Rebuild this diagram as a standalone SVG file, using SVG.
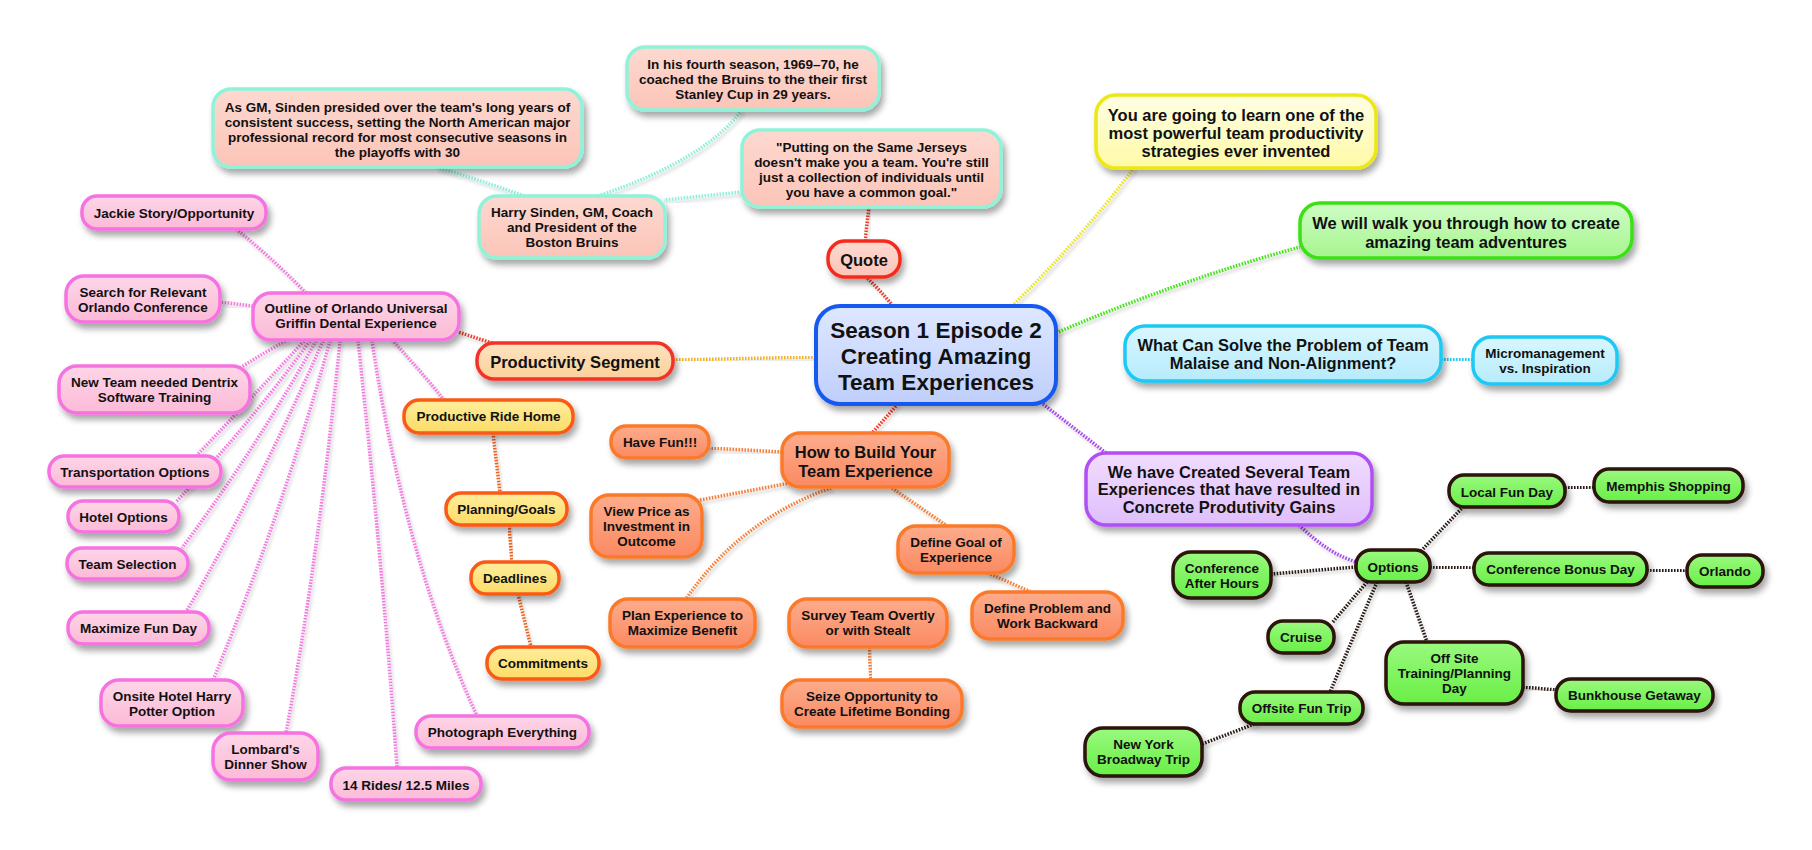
<svg xmlns="http://www.w3.org/2000/svg" width="1812" height="850" viewBox="0 0 1812 850">
<defs>
<filter id="sh" x="-20%" y="-30%" width="150%" height="180%"><feDropShadow dx="3" dy="5" stdDeviation="3" flood-color="#000" flood-opacity="0.35"/></filter>
<filter id="lsh" x="-20%" y="-20%" width="150%" height="150%"><feDropShadow dx="2" dy="3" stdDeviation="1.5" flood-color="#000" flood-opacity="0.2"/></filter>
<linearGradient id="gBlue" x1="0" y1="0" x2="0" y2="1"><stop offset="0" stop-color="#dde7ff"/><stop offset="1" stop-color="#bfcffb"/></linearGradient>
<linearGradient id="gSal" x1="0" y1="0" x2="0" y2="1"><stop offset="0" stop-color="#fdd9d0"/><stop offset="1" stop-color="#fcc4b8"/></linearGradient>
<linearGradient id="gPeach" x1="0" y1="0" x2="0" y2="1"><stop offset="0" stop-color="#fee3bf"/><stop offset="1" stop-color="#fcd09a"/></linearGradient>
<linearGradient id="gYel" x1="0" y1="0" x2="0" y2="1"><stop offset="0" stop-color="#feee9c"/><stop offset="1" stop-color="#fddb66"/></linearGradient>
<linearGradient id="gPink" x1="0" y1="0" x2="0" y2="1"><stop offset="0" stop-color="#fed6e8"/><stop offset="1" stop-color="#fcbad6"/></linearGradient>
<linearGradient id="gOr" x1="0" y1="0" x2="0" y2="1"><stop offset="0" stop-color="#fdac8c"/><stop offset="1" stop-color="#fb8a62"/></linearGradient>
<linearGradient id="gLY" x1="0" y1="0" x2="0" y2="1"><stop offset="0" stop-color="#fffee4"/><stop offset="1" stop-color="#fffaa6"/></linearGradient>
<linearGradient id="gLG" x1="0" y1="0" x2="0" y2="1"><stop offset="0" stop-color="#cffcc6"/><stop offset="1" stop-color="#a6f58e"/></linearGradient>
<linearGradient id="gCy" x1="0" y1="0" x2="0" y2="1"><stop offset="0" stop-color="#d9f7fe"/><stop offset="1" stop-color="#b6ebfc"/></linearGradient>
<linearGradient id="gPu" x1="0" y1="0" x2="0" y2="1"><stop offset="0" stop-color="#f1dcfe"/><stop offset="1" stop-color="#dfbffc"/></linearGradient>
<linearGradient id="gGr" x1="0" y1="0" x2="0" y2="1"><stop offset="0" stop-color="#9af97e"/><stop offset="1" stop-color="#68ef46"/></linearGradient>
</defs>
<style>
text{font-family:"Liberation Sans",Arial,sans-serif;font-weight:bold;fill:#111;text-anchor:middle}
.s text{font-size:13.5px}
.m text{font-size:16.5px}
.l text{font-size:22.5px}
.node rect{stroke-width:3.5;filter:url(#sh)}
.blue rect{fill:url(#gBlue);stroke:#1458f0;stroke-width:4}
.aq rect{fill:url(#gSal);stroke:#8ef3d9}
.qt rect{fill:url(#gSal);stroke:#f52c1c}
.ps rect{fill:url(#gPeach);stroke:#f5322a}
.ye rect{fill:url(#gYel);stroke:#fb5a14}
.pk rect{fill:url(#gPink);stroke:#f672e0}
.or rect{fill:url(#gOr);stroke:#fb7a2a}
.ly rect{fill:url(#gLY);stroke:#ece814}
.lg rect{fill:url(#gLG);stroke:#3ae012}
.cy rect{fill:url(#gCy);stroke:#1ec8f4}
.pu rect{fill:url(#gPu);stroke:#b050f4}
.gr rect{fill:url(#gGr);stroke:#2a1208}
#connectors path{fill:none;stroke-width:3.5;stroke-dasharray:1.6 1.4;filter:url(#lsh)}
.c-aq{stroke:#8cf0da}.c-rd{stroke:#f03a28}.c-am{stroke:#f0b429}.c-ro{stroke:#f0601c}
.c-or{stroke:#f5803c}.c-pk{stroke:#f47ae0}.c-ye{stroke:#ece620}.c-gn{stroke:#44e41c}
.c-cy{stroke:#28c8f0}.c-pu{stroke:#a848f0}.c-dk{stroke:#2a1a14}
</style>
<rect width="1812" height="850" fill="#fff"/>
<g id="connectors">
<path class="c-aq" d="M742,192 L664,200"/>
<path class="c-aq" d="M598,196 Q705,160 742,110"/>
<path class="c-aq" d="M524,196 Q480,180 436,167"/>
<path class="c-rd" d="M865,241 L869,207"/>
<path class="c-rd" d="M893,306 Q880,290 866,277"/>
<path class="c-rd" d="M492,343 L458,332"/>
<path class="c-rd" d="M898,404 L872,433"/>
<path class="c-am" d="M673,360 L816,357"/>
<path class="c-pk" d="M306,293 Q272,258 236,229"/>
<path class="c-pk" d="M253,306 L221,302"/>
<path class="c-pk" d="M288,340 Q265,352 240,368"/>
<path class="c-pk" d="M304,341 Q250,400 197,455"/>
<path class="c-pk" d="M310,341 Q245,430 176,502"/>
<path class="c-pk" d="M316,341 Q255,450 182,548"/>
<path class="c-pk" d="M323,341 Q255,495 186,612"/>
<path class="c-pk" d="M330,341 Q280,520 213,680"/>
<path class="c-pk" d="M340,341 Q318,560 286,733"/>
<path class="c-pk" d="M358,341 Q382,560 397,767"/>
<path class="c-pk" d="M372,341 Q405,560 477,716"/>
<path class="c-pk" d="M392,340 Q420,370 444,400"/>
<path class="c-ro" d="M493,433 L500,493"/>
<path class="c-ro" d="M509,525 L512,562"/>
<path class="c-ro" d="M518,594 L531,647"/>
<path class="c-or" d="M782,452 L709,448"/>
<path class="c-or" d="M790,483 L700,500"/>
<path class="c-or" d="M831,488 Q740,520 686,599"/>
<path class="c-or" d="M868,488 L868,599"/>
<path class="c-or" d="M892,488 L947,526"/>
<path class="c-or" d="M869,647 L871,680"/>
<path class="c-or" d="M988,573 L1031,592"/>
<path class="c-ye" d="M1012,306 Q1080,240 1134,168"/>
<path class="c-gn" d="M1056,333 Q1180,280 1300,247"/>
<path class="c-cy" d="M1056,354 L1125,354"/>
<path class="c-cy" d="M1441,359 L1473,360"/>
<path class="c-pu" d="M1043,404 L1106,453"/>
<path class="c-pu" d="M1299,525 Q1330,555 1357,562"/>
<path class="c-dk" d="M1421,551 L1463,507"/>
<path class="c-dk" d="M1356,567 L1271,574"/>
<path class="c-dk" d="M1430,567 L1474,568"/>
<path class="c-dk" d="M1565,488 L1594,487"/>
<path class="c-dk" d="M1647,570 L1687,571"/>
<path class="c-dk" d="M1367,582 L1332,623"/>
<path class="c-dk" d="M1377,582 L1330,692"/>
<path class="c-dk" d="M1406,582 L1427,642"/>
<path class="c-dk" d="M1523,687 L1556,690"/>
<path class="c-dk" d="M1257,723 L1202,744"/>
</g>
<g id="n-asgm" class="node aq s"><rect x="213" y="89" width="369" height="78" rx="18"/><text><tspan x="397.5" y="112">As GM, Sinden presided over the team's long years of</tspan><tspan x="397.5" y="127">consistent success, setting the North American major</tspan><tspan x="397.5" y="142">professional record for most consecutive seasons in</tspan><tspan x="397.5" y="157">the playoffs with 30</tspan></text></g>
<g id="n-fourth" class="node aq s"><rect x="627" y="47" width="252" height="63" rx="18"/><text><tspan x="753" y="69">In his fourth season, 1969–70, he</tspan><tspan x="753" y="84">coached the Bruins to the their first</tspan><tspan x="753" y="99">Stanley Cup in 29 years.</tspan></text></g>
<g id="n-putting" class="node aq s"><rect x="742" y="130" width="259" height="77" rx="18"/><text><tspan x="871.5" y="152">"Putting on the Same Jerseys</tspan><tspan x="871.5" y="167">doesn't make you a team. You're still</tspan><tspan x="871.5" y="182">just a collection of individuals until</tspan><tspan x="871.5" y="197">you have a common goal."</tspan></text></g>
<g id="n-harry" class="node aq s"><rect x="479" y="196" width="186" height="62" rx="18"/><text><tspan x="572" y="217">Harry Sinden, GM, Coach</tspan><tspan x="572" y="232">and President of the</tspan><tspan x="572" y="247">Boston Bruins</tspan></text></g>
<g id="n-quote" class="node qt m"><rect x="828" y="241" width="72" height="36" rx="17"/><text x="864" y="266">Quote</text></g>
<g id="n-central" class="node blue l"><rect x="816" y="306" width="240" height="98" rx="24"/><text><tspan x="936" y="338">Season 1 Episode 2</tspan><tspan x="936" y="364">Creating Amazing</tspan><tspan x="936" y="390">Team Experiences</tspan></text></g>
<g id="n-prodseg" class="node ps m"><rect x="477" y="343" width="196" height="36" rx="17"/><text x="575" y="368">Productivity Segment</text></g>
<g id="n-outline" class="node pk s"><rect x="253" y="293" width="206" height="47" rx="18"/><text><tspan x="356" y="313">Outline of Orlando Universal</tspan><tspan x="356" y="328">Griffin Dental Experience</tspan></text></g>
<g id="n-jackie" class="node pk s"><rect x="82" y="196" width="184" height="33" rx="15"/><text x="174" y="218">Jackie Story/Opportunity</text></g>
<g id="n-search" class="node pk s"><rect x="66" y="276" width="154" height="46" rx="18"/><text><tspan x="143" y="297">Search for Relevant</tspan><tspan x="143" y="312">Orlando Conference</tspan></text></g>
<g id="n-newteam" class="node pk s"><rect x="59" y="366" width="191" height="47" rx="18"/><text><tspan x="154.5" y="387">New Team needed Dentrix</tspan><tspan x="154.5" y="402">Software Training</tspan></text></g>
<g id="n-transport" class="node pk s"><rect x="49" y="456" width="172" height="31" rx="15"/><text x="135" y="477">Transportation Options</text></g>
<g id="n-hotel" class="node pk s"><rect x="68" y="501" width="111" height="31" rx="15"/><text x="123.5" y="522">Hotel Options</text></g>
<g id="n-teamsel" class="node pk s"><rect x="67" y="548" width="121" height="31" rx="15"/><text x="127.5" y="569">Team Selection</text></g>
<g id="n-maxfun" class="node pk s"><rect x="68" y="612" width="141" height="32" rx="15"/><text x="138.5" y="633">Maximize Fun Day</text></g>
<g id="n-onsite" class="node pk s"><rect x="101" y="680" width="142" height="46" rx="18"/><text><tspan x="172" y="701">Onsite Hotel Harry</tspan><tspan x="172" y="716">Potter Option</tspan></text></g>
<g id="n-lombard" class="node pk s"><rect x="213" y="733" width="105" height="47" rx="18"/><text><tspan x="265.5" y="754">Lombard's</tspan><tspan x="265.5" y="769">Dinner Show</tspan></text></g>
<g id="n-rides" class="node pk s"><rect x="331" y="768" width="150" height="32" rx="15"/><text x="406" y="790">14 Rides/ 12.5 Miles</text></g>
<g id="n-photo" class="node pk s"><rect x="416" y="716" width="173" height="32" rx="15"/><text x="502.5" y="737">Photograph Everything</text></g>
<g id="n-ridehome" class="node ye s"><rect x="404" y="400" width="169" height="33" rx="15"/><text x="488.5" y="421">Productive Ride Home</text></g>
<g id="n-planning" class="node ye s"><rect x="446" y="493" width="121" height="32" rx="15"/><text x="506.5" y="514">Planning/Goals</text></g>
<g id="n-deadlines" class="node ye s"><rect x="471" y="562" width="88" height="32" rx="15"/><text x="515" y="583">Deadlines</text></g>
<g id="n-commit" class="node ye s"><rect x="487" y="647" width="112" height="32" rx="15"/><text x="543" y="668">Commitments</text></g>
<g id="n-howto" class="node or m"><rect x="782" y="433" width="167" height="54" rx="18"/><text><tspan x="865.5" y="458">How to Build Your</tspan><tspan x="865.5" y="477">Team Experience</tspan></text></g>
<g id="n-havefun" class="node or s"><rect x="611" y="426" width="98" height="32" rx="15"/><text x="660" y="447">Have Fun!!!</text></g>
<g id="n-viewprice" class="node or s"><rect x="591" y="495" width="111" height="62" rx="18"/><text><tspan x="646.5" y="516">View Price as</tspan><tspan x="646.5" y="531">Investment in</tspan><tspan x="646.5" y="546">Outcome</tspan></text></g>
<g id="n-definegoal" class="node or s"><rect x="898" y="526" width="116" height="47" rx="18"/><text><tspan x="956" y="547">Define Goal of</tspan><tspan x="956" y="562">Experience</tspan></text></g>
<g id="n-planexp" class="node or s"><rect x="610" y="599" width="145" height="48" rx="18"/><text><tspan x="682.5" y="620">Plan Experience to</tspan><tspan x="682.5" y="635">Maximize Benefit</tspan></text></g>
<g id="n-survey" class="node or s"><rect x="789" y="599" width="158" height="48" rx="18"/><text><tspan x="868" y="620">Survey Team Overtly</tspan><tspan x="868" y="635">or with Stealt</tspan></text></g>
<g id="n-defineprob" class="node or s"><rect x="972" y="592" width="151" height="47" rx="18"/><text><tspan x="1047.5" y="613">Define Problem and</tspan><tspan x="1047.5" y="628">Work Backward</tspan></text></g>
<g id="n-seize" class="node or s"><rect x="782" y="680" width="180" height="47" rx="18"/><text><tspan x="872" y="701">Seize Opportunity to</tspan><tspan x="872" y="716">Create Lifetime Bonding</tspan></text></g>
<g id="n-learn" class="node ly m"><rect x="1096" y="95" width="280" height="73" rx="20"/><text><tspan x="1236" y="121">You are going to learn one of the</tspan><tspan x="1236" y="139">most powerful team productivity</tspan><tspan x="1236" y="157">strategies ever invented</tspan></text></g>
<g id="n-walk" class="node lg m"><rect x="1300" y="203" width="332" height="55" rx="20"/><text><tspan x="1466" y="229">We will walk you through how to create</tspan><tspan x="1466" y="248">amazing team adventures</tspan></text></g>
<g id="n-what" class="node cy m"><rect x="1125" y="326" width="316" height="55" rx="20"/><text><tspan x="1283" y="351">What Can Solve the Problem of Team</tspan><tspan x="1283" y="369">Malaise and Non-Alignment?</tspan></text></g>
<g id="n-micro" class="node cy s"><rect x="1473" y="337" width="144" height="47" rx="18"/><text><tspan x="1545" y="358">Micromanagement</tspan><tspan x="1545" y="373">vs. Inspiration</tspan></text></g>
<g id="n-wehave" class="node pu m"><rect x="1086" y="453" width="286" height="72" rx="20"/><text><tspan x="1229" y="478">We have Created Several Team</tspan><tspan x="1229" y="495">Experiences that have resulted in</tspan><tspan x="1229" y="513">Concrete Produtivity Gains</tspan></text></g>
<g id="n-options" class="node gr s"><rect x="1356" y="550" width="74" height="32" rx="15"/><text x="1393" y="572">Options</text></g>
<g id="n-localfun" class="node gr s"><rect x="1449" y="475" width="116" height="32" rx="15"/><text x="1507" y="497">Local Fun Day</text></g>
<g id="n-memphis" class="node gr s"><rect x="1594" y="469" width="149" height="33" rx="15"/><text x="1668.5" y="491">Memphis Shopping</text></g>
<g id="n-confafter" class="node gr s"><rect x="1173" y="552" width="98" height="46" rx="18"/><text><tspan x="1222" y="573">Conference</tspan><tspan x="1222" y="588">After Hours</tspan></text></g>
<g id="n-confbonus" class="node gr s"><rect x="1474" y="553" width="173" height="32" rx="15"/><text x="1560.5" y="574">Conference Bonus Day</text></g>
<g id="n-orlando" class="node gr s"><rect x="1687" y="555" width="76" height="32" rx="15"/><text x="1725" y="576">Orlando</text></g>
<g id="n-cruise" class="node gr s"><rect x="1268" y="621" width="66" height="32" rx="15"/><text x="1301" y="642">Cruise</text></g>
<g id="n-offsite" class="node gr s"><rect x="1386" y="642" width="137" height="62" rx="18"/><text><tspan x="1454.5" y="663">Off Site</tspan><tspan x="1454.5" y="678">Training/Planning</tspan><tspan x="1454.5" y="693">Day</tspan></text></g>
<g id="n-bunkhouse" class="node gr s"><rect x="1556" y="679" width="157" height="32" rx="15"/><text x="1634.5" y="700">Bunkhouse Getaway</text></g>
<g id="n-offsitefun" class="node gr s"><rect x="1240" y="692" width="123" height="32" rx="15"/><text x="1301.5" y="713">Offsite Fun Trip</text></g>
<g id="n-newyork" class="node gr s"><rect x="1085" y="728" width="117" height="48" rx="18"/><text><tspan x="1143.5" y="749">New York</tspan><tspan x="1143.5" y="764">Broadway Trip</tspan></text></g>
</svg>
